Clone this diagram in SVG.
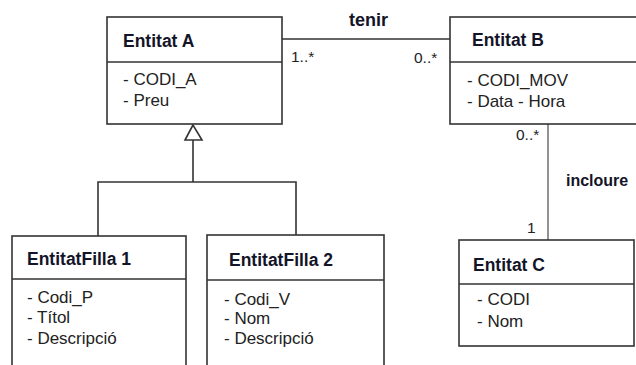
<svg xmlns="http://www.w3.org/2000/svg" width="636" height="365" viewBox="0 0 636 365">
<style>
.box{fill:#fff;stroke:#333;stroke-width:1.6}
.div{stroke:#333;stroke-width:1.6}
.title{font-family:"Liberation Sans",Arial,sans-serif;font-weight:bold;font-size:17.5px;fill:#141428}
.attr{font-family:"Liberation Sans",Arial,sans-serif;font-size:17px;fill:#222}
.mult{font-family:"Liberation Sans",Arial,sans-serif;font-size:15.5px;fill:#222}
.lbl{font-family:"Liberation Sans",Arial,sans-serif;font-weight:bold;font-size:17px;fill:#141428}
.conn{fill:none;stroke:#333;stroke-width:1.6}
.light{stroke:#777}
</style>
<rect width="636" height="365" fill="#fff"/>
<g id="connectors">
<line class="conn" x1="282" y1="39" x2="450" y2="39"/>
<line class="conn light" x1="548" y1="124" x2="548" y2="240"/>
<polyline class="conn" points="193,140 193,182"/>
<polyline class="conn" points="98,236 98,182 296,182 296,235"/>
<polygon points="193,125 185,140 202,140" fill="#fff" stroke="#333" stroke-width="1.6"/>
<text class="lbl" x="349" y="26" style="font-size:18px">tenir</text>
<text class="mult" x="291" y="62">1..*</text>
<text class="mult" x="414" y="63">0..*</text>
<text class="mult" x="516" y="140">0..*</text>
<text class="lbl" x="566" y="186" style="font-size:16px">incloure</text>
<text class="mult" x="527" y="233">1</text>
</g>
<g id="entitatA">
<rect class="box" x="107" y="17" width="175" height="107"/>
<line class="div" x1="107" y1="62" x2="282" y2="62"/>
<text class="title" x="123" y="47">Entitat A</text>
<text class="attr" x="123" y="85">- CODI_A</text>
<text class="attr" x="123" y="106">- Preu</text>
</g>
<g id="entitatB">
<rect class="box" x="450" y="17" width="200" height="107"/>
<line class="div" x1="450" y1="62" x2="636" y2="62"/>
<text class="title" x="472" y="46">Entitat B</text>
<text class="attr" x="467" y="86">- CODI_MOV</text>
<text class="attr" x="467" y="107">- Data - Hora</text>
</g>
<g id="entitatC">
<rect class="box" x="459" y="240" width="175" height="106"/>
<line class="div" x1="459" y1="284" x2="634" y2="284"/>
<text class="title" x="473" y="271">Entitat C</text>
<text class="attr" x="477" y="305">- CODI</text>
<text class="attr" x="477" y="327">- Nom</text>
</g>
<g id="entitatFilla1">
<rect class="box" x="12" y="236" width="174" height="140"/>
<line class="div" x1="12" y1="279" x2="186" y2="279"/>
<text class="title" x="27" y="265">EntitatFilla 1</text>
<text class="attr" x="27" y="303">- Codi_P</text>
<text class="attr" x="27" y="323">- Títol</text>
<text class="attr" x="27" y="344">- Descripció</text>
</g>
<g id="entitatFilla2">
<rect class="box" x="207" y="235" width="177" height="140"/>
<line class="div" x1="207" y1="280" x2="384" y2="280"/>
<text class="title" x="229" y="266">EntitatFilla 2</text>
<text class="attr" x="224" y="305">- Codi_V</text>
<text class="attr" x="224" y="324">- Nom</text>
<text class="attr" x="224" y="344">- Descripció</text>
</g>
</svg>
